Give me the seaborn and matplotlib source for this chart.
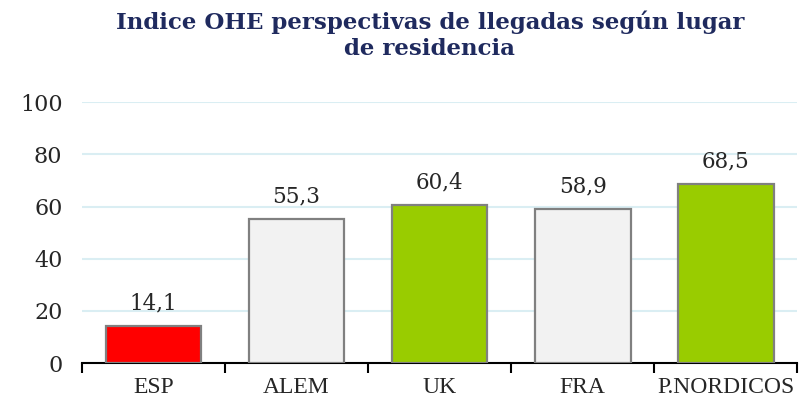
import pandas as pd
import numpy as np
import matplotlib
matplotlib.use("Agg")
import matplotlib.pyplot as plt
import seaborn as sns

# data
categories = ["ESP", "ALEM", "UK", "FRA", "P.NORDICOS"]
values = [14.1, 55.3, 60.4, 58.9, 68.5]
bar_colors = ["#FF0000", "#F2F2F2", "#99CC00", "#F2F2F2", "#99CC00"]
yticks = [0, 20, 40, 60, 80, 100]

df = pd.DataFrame({"pais": categories, "indice": values})

sns.set_style("white")
plt.rcParams['font.family'] = ['Liberation Serif', 'DejaVu Serif']

fig = plt.figure(figsize=(8.11, 4.07), dpi=100)
ax = fig.add_axes([0.101, 0.108, 0.882, 0.641])

sns.barplot(data=df, x="pais", y="indice", hue="pais", palette=bar_colors,
            legend=False, width=0.67, edgecolor="#808080", linewidth=1.6,
            saturation=1, ax=ax, zorder=3)

for i, v in enumerate(values):
    ax.text(i, v + 4.5, f"{v:.1f}".replace(".", ","), ha="center", va="bottom",
            fontsize=15.5, color="#262626", family="DejaVu Serif")

ax.set_ylim(0, 100)
ax.set_xlim(-0.5, len(categories) - 0.5)
ax.set_yticks(yticks)
ax.set_yticklabels([str(t) for t in yticks], fontsize=16, color="#262626",
                   family="DejaVu Serif")
ax.yaxis.grid(True, color="#DAEEF3", linewidth=1.5, zorder=0)
ax.set_axisbelow(True)

ax.set_xticks(range(len(categories)))
ax.set_xticklabels(categories, fontsize=17, color="#262626")
ax.set_xticks(np.arange(-0.5, len(categories)), minor=True)
ax.tick_params(axis="x", which="major", bottom=False, length=0, pad=10)
ax.tick_params(axis="x", which="minor", bottom=True, length=7, width=1.5,
               color="black", direction="out")
ax.tick_params(axis="y", length=0, pad=14)

for s in ["top", "right", "left"]:
    ax.spines[s].set_visible(False)
ax.spines["bottom"].set_color("black")
ax.spines["bottom"].set_linewidth(1.5)
ax.set_xlabel("")
ax.set_ylabel("")

fig.text(0.53, 0.975, "Indice OHE perspectivas de llegadas según lugar\nde residencia",
         ha="center", va="top", fontsize=16.5, fontweight="bold", color="#1F2A5E",
         linespacing=1.25, family="DejaVu Serif")

fig.savefig("out.png", dpi=100)
